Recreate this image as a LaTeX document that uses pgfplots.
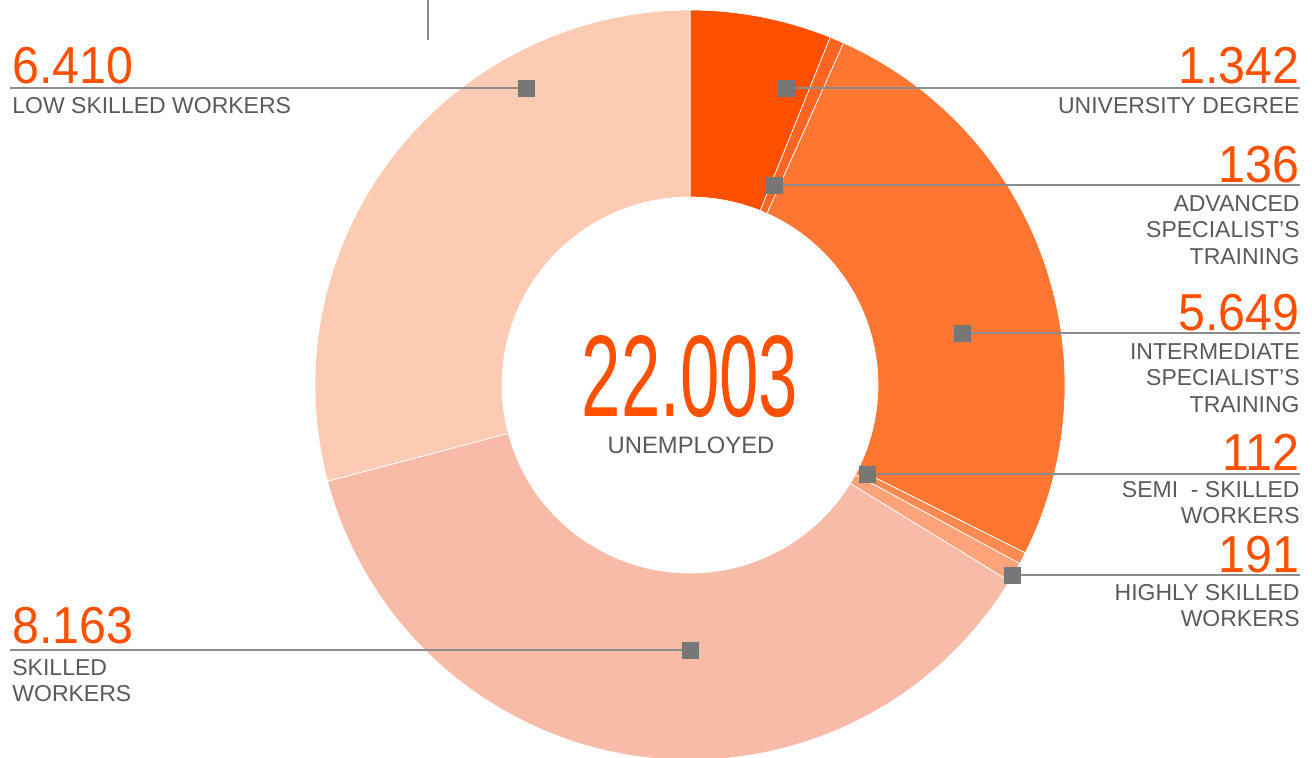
\documentclass[border=0pt]{standalone}
\usepackage{pgfplots}
\pgfplotsset{compat=1.18}
\usepackage{graphicx}
\usepackage{fontspec}
\setmainfont{Liberation Sans}

\definecolor{cuni}{HTML}{FF5000}
\definecolor{cadv}{HTML}{FF6522}
\definecolor{cint}{HTML}{FF7633}
\definecolor{csemi}{HTML}{FF8A52}
\definecolor{chigh}{HTML}{FFA47A}
\definecolor{cskill}{HTML}{F8BBA8}
\definecolor{clow}{HTML}{FDCBB3}
\definecolor{numc}{HTML}{FF5000}
\definecolor{labc}{HTML}{5A5A5A}
\definecolor{markc}{HTML}{777777}
\definecolor{leadc}{HTML}{8C8C8C}

\newcommand\nm[1]{\scalebox{0.93}[1]{#1}}

\begin{document}
\begin{tikzpicture}[
  num/.style={inner sep=0, text=numc, font=\fontsize{26}{30}\selectfont},
  labL/.style={anchor=north west, inner sep=0, align=left, text=labc, font=\fontsize{11.5}{13.25}\selectfont},
  labR/.style={anchor=north east, inner sep=0, align=right, text=labc, font=\fontsize{11.5}{13.25}\selectfont},
]
\begin{axis}[
  scale only axis, width=656pt, height=378.5pt,
  xmin=0, xmax=1312, ymin=0, ymax=757, y dir=reverse,
  hide axis,
]
\coordinate (SW) at (axis cs:0,757);
\coordinate (NE) at (axis cs:1312,0);
% donut: values clockwise from the top, total 22003 (angle = v/220.03*3.6)
\foreach \v/\c [remember=\e as \s (initially 90)] in
  {1342/cuni, 136/cadv, 5649/cint, 112/csemi, 191/chigh, 8163/cskill, 6410/clow} {
  \pgfmathsetmacro\e{\s-\v/220.03*3.6}
  \pgfmathsetmacro\f{\e+180}
  \edef\temp{\noexpand\fill[\c, draw=white, line width=0.35pt]
    (axis cs:690,385) ++(\s:187.5pt) arc[start angle=\s, end angle=\e, radius=187.5pt]
    -- ++(\f:93.5pt) arc[start angle=\e, end angle=\s, radius=94pt] -- cycle;}
  \temp
}

% leader lines
\addplot[leadc, line width=0.75pt, no marks] coordinates {(428,0) (428,40)};
\addplot[leadc, line width=0.75pt, no marks] coordinates {(10,88) (526,88)};
\addplot[leadc, line width=0.75pt, no marks] coordinates {(786,88) (1300,88)};
\addplot[leadc, line width=0.75pt, no marks] coordinates {(774,185) (1300,185)};
\addplot[leadc, line width=0.75pt, no marks] coordinates {(962,333) (1300,333)};
\addplot[leadc, line width=0.75pt, no marks] coordinates {(867,474) (1300,474)};
\addplot[leadc, line width=0.75pt, no marks] coordinates {(1012,575) (1300,575)};
\addplot[leadc, line width=0.75pt, no marks] coordinates {(10,650) (690,650)};
\addplot[only marks, mark=square*, mark size=4pt, color=markc]
  coordinates {(526,88) (786,88) (774,185) (962,333) (867,474) (1012,575) (690,650)};

% numbers and labels
\node[num, anchor=base west] at (axis cs:12,83) {\nm{6.410}};
\node[labL] at (axis cs:12,97) {LOW SKILLED WORKERS};
\node[num, anchor=base west] at (axis cs:12,643) {\nm{8.163}};
\node[labL] at (axis cs:12,659) {SKILLED\\WORKERS};

\node[num, anchor=base east] at (axis cs:1300,83) {\nm{1.342}};
\node[labR] at (axis cs:1300,97) {UNIVERSITY DEGREE};
\node[num, anchor=base east] at (axis cs:1300,182) {\nm{136}};
\node[labR] at (axis cs:1300,195) {ADVANCED\\SPECIALIST’S\\TRAINING};
\node[num, anchor=base east] at (axis cs:1300,330) {\nm{5.649}};
\node[labR] at (axis cs:1300,343) {INTERMEDIATE\\SPECIALIST’S\\TRAINING};
\node[num, anchor=base east] at (axis cs:1300,470) {\nm{112}};
\node[labR] at (axis cs:1300,481) {SEMI \ - SKILLED\\WORKERS};
\node[num, anchor=base east] at (axis cs:1300,572) {\nm{191}};
\node[labR] at (axis cs:1300,584) {HIGHLY SKILLED\\WORKERS};

\node[inner sep=0, anchor=base, text=numc] at (axis cs:690,416)
  {\scalebox{0.61}[1]{\fontsize{58}{60}\selectfont 22.003}};
\node[inner sep=0, anchor=base, text=labc, font=\fontsize{11.9}{13}\selectfont]
  at (axis cs:691,453) {UNEMPLOYED};
\end{axis}
\pgfresetboundingbox
\path[use as bounding box] (SW) rectangle (NE);
\end{tikzpicture}
\end{document}
